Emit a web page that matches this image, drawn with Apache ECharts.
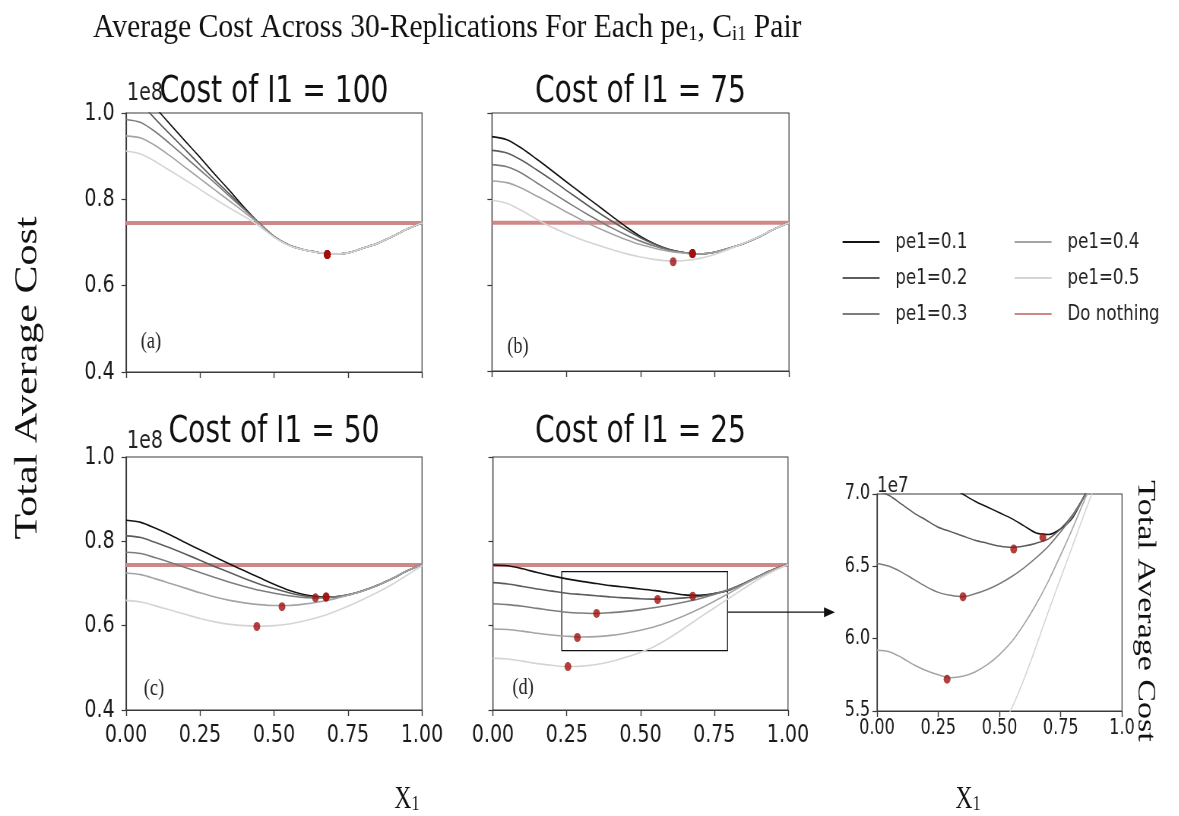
<!DOCTYPE html>
<html>
<head>
<meta charset="utf-8">
<script src="https://cdn.jsdelivr.net/npm/echarts@6/dist/echarts.min.js"></script>
<style>
html, body { margin: 0; padding: 0; background: #fff; overflow: hidden; }
/* the source figure is squeezed sideways, so the chart is drawn wider and scaled back */
#container { width: 1552px; height: 816px; transform: scaleX(0.76); transform-origin: 0 0; }
</style>
</head>
<body>
<div id="container"></div>
<script>
const SQ = 0.76;
const px = v => v / SQ;

let xs = [0, 0.05, 0.1, 0.15, 0.2, 0.25, 0.3, 0.35, 0.4, 0.45, 0.5, 0.55, 0.6, 0.65, 0.7, 0.75, 0.8, 0.85, 0.9, 0.95, 1.0];
let pe1Names = ['pe1=0.1', 'pe1=0.2', 'pe1=0.3', 'pe1=0.4', 'pe1=0.5'];
let pe1Colors = ['#141414', '#5c5c5c', '#7c7c7c', '#a4a4a4', '#d4d4d4'];
let redLine = '#cf8888';
let panelTitles = ['Cost of I1 = 100', 'Cost of I1 = 75', 'Cost of I1 = 50', 'Cost of I1 = 25'];
let panelTags = ['(a)', '(b)', '(c)', '(d)'];

// total average cost in units of 1e8, one row per pe1
let cost100 = [
    [1.06, 1.05, 1.012, 0.973, 0.935, 0.897, 0.858, 0.82, 0.781, 0.745, 0.714, 0.694, 0.683, 0.677, 0.673, 0.676, 0.687, 0.698, 0.714, 0.731, 0.746],
    [1.03, 1.02, 0.985, 0.95, 0.915, 0.88, 0.845, 0.812, 0.778, 0.745, 0.714, 0.694, 0.683, 0.677, 0.673, 0.676, 0.687, 0.698, 0.714, 0.731, 0.746],
    [0.985, 0.978, 0.956, 0.928, 0.898, 0.868, 0.838, 0.807, 0.776, 0.745, 0.714, 0.694, 0.683, 0.677, 0.673, 0.676, 0.687, 0.698, 0.714, 0.731, 0.746],
    [0.947, 0.942, 0.924, 0.9, 0.874, 0.848, 0.822, 0.796, 0.77, 0.743, 0.713, 0.694, 0.683, 0.677, 0.673, 0.676, 0.687, 0.698, 0.714, 0.731, 0.746],
    [0.912, 0.905, 0.887, 0.866, 0.845, 0.823, 0.801, 0.78, 0.76, 0.738, 0.712, 0.693, 0.683, 0.677, 0.673, 0.676, 0.687, 0.698, 0.714, 0.731, 0.746]
];
let cost75 = [
    [0.945, 0.938, 0.918, 0.893, 0.867, 0.84, 0.814, 0.788, 0.762, 0.736, 0.713, 0.695, 0.682, 0.675, 0.672, 0.676, 0.686, 0.697, 0.712, 0.73, 0.745],
    [0.913, 0.907, 0.89, 0.868, 0.845, 0.82, 0.796, 0.772, 0.75, 0.729, 0.71, 0.694, 0.682, 0.675, 0.672, 0.676, 0.686, 0.697, 0.712, 0.73, 0.745],
    [0.88, 0.875, 0.86, 0.838, 0.816, 0.794, 0.773, 0.753, 0.734, 0.717, 0.702, 0.69, 0.68, 0.675, 0.672, 0.676, 0.686, 0.697, 0.712, 0.73, 0.745],
    [0.842, 0.838, 0.825, 0.807, 0.789, 0.77, 0.752, 0.735, 0.72, 0.706, 0.694, 0.685, 0.678, 0.674, 0.672, 0.676, 0.686, 0.697, 0.712, 0.73, 0.745],
    [0.797, 0.79, 0.773, 0.753, 0.735, 0.72, 0.706, 0.694, 0.683, 0.673, 0.665, 0.659, 0.656, 0.657, 0.662, 0.671, 0.684, 0.698, 0.713, 0.73, 0.745]
];
let cost50 = [
    [0.85, 0.845, 0.831, 0.815, 0.797, 0.78, 0.763, 0.746, 0.73, 0.714, 0.698, 0.684, 0.674, 0.669, 0.668, 0.673, 0.683, 0.696, 0.712, 0.73, 0.745],
    [0.813, 0.809, 0.797, 0.784, 0.77, 0.755, 0.74, 0.726, 0.712, 0.699, 0.688, 0.678, 0.671, 0.667, 0.667, 0.673, 0.683, 0.696, 0.712, 0.73, 0.745],
    [0.774, 0.771, 0.761, 0.75, 0.738, 0.726, 0.714, 0.703, 0.693, 0.684, 0.677, 0.671, 0.667, 0.666, 0.668, 0.673, 0.683, 0.696, 0.712, 0.73, 0.745],
    [0.725, 0.721, 0.711, 0.7, 0.689, 0.678, 0.668, 0.66, 0.654, 0.65, 0.648, 0.648, 0.651, 0.656, 0.663, 0.672, 0.682, 0.695, 0.712, 0.73, 0.745],
    [0.66, 0.656, 0.647, 0.637, 0.627, 0.617, 0.609, 0.603, 0.6, 0.599, 0.6, 0.604, 0.611, 0.62, 0.632, 0.646, 0.662, 0.679, 0.698, 0.72, 0.742]
];
let cost25 = [
    [0.744, 0.742, 0.735, 0.726, 0.718, 0.711, 0.705, 0.7, 0.695, 0.691, 0.687, 0.683, 0.678, 0.673, 0.672, 0.676, 0.684, 0.7, 0.717, 0.733, 0.745],
    [0.702, 0.699, 0.693, 0.687, 0.682, 0.677, 0.674, 0.671, 0.668, 0.666, 0.664, 0.663, 0.664, 0.666, 0.669, 0.676, 0.686, 0.7, 0.717, 0.733, 0.745],
    [0.652, 0.65, 0.646, 0.641, 0.636, 0.632, 0.63, 0.629, 0.631, 0.634, 0.638, 0.643, 0.649, 0.656, 0.664, 0.674, 0.685, 0.699, 0.716, 0.732, 0.745],
    [0.592, 0.591, 0.587, 0.582, 0.578, 0.575, 0.573, 0.574, 0.577, 0.582, 0.589, 0.598, 0.61, 0.624, 0.64, 0.658, 0.677, 0.697, 0.716, 0.732, 0.745],
    [0.523, 0.521, 0.516, 0.51, 0.506, 0.503, 0.504, 0.508, 0.515, 0.525, 0.537, 0.552, 0.572, 0.595, 0.619, 0.642, 0.665, 0.688, 0.71, 0.729, 0.745]
];

// best x1 for each pe1 (red dots)
let opt100 = [[0.68, 0.672], [0.68, 0.672], [0.68, 0.672], [0.68, 0.672], [0.68, 0.672]];
let opt75 = [[0.675, 0.673], [0.675, 0.673], [0.675, 0.673], [0.675, 0.673], [0.61, 0.654]];
let opt50 = [[0.676, 0.668], [0.676, 0.668], [0.64, 0.666], [0.527, 0.645], [0.442, 0.598]];
let opt25 = [[0.677, 0.67], [0.558, 0.662], [0.351, 0.629], [0.286, 0.572], [0.254, 0.503]];

let doNothing = [0.745, 0.745, 0.744, 0.744];
let zoomBox = [[0.233, 0.728], [0.795, 0.541]];
let arrowY = 0.632;

let costData = [cost100, cost75, cost50, cost25];
let optData = [opt100, opt75, opt50, opt25];

let grids = [
    {left: px(126), top: 113, width: px(296), height: 259},
    {left: px(492), top: 113, width: px(297), height: 258},
    {left: px(126), top: 457, width: px(296), height: 253},
    {left: px(493), top: 457, width: px(295), height: 253},
    {left: px(877), top: 494, width: px(245), height: 217}
];
grids.forEach(function (g) {
    g.show = true;
    g.borderColor = '#3a3a3a';
    g.borderWidth = 1.2;
    g.containLabel = false;
});

var dom = document.getElementById('container');
var myChart = echarts.init(dom, null, {renderer: 'canvas', useDirtyRect: false});

let axisLine = {show: true, lineStyle: {color: '#3a3a3a', width: 1.2}};
let labelFont = {fontFamily: 'DejaVu Sans', color: '#1a1a1a'};

let xAxes = grids.map(function (g, i) {
    let inset = i === 4;
    return {
        gridIndex: i, type: 'value', min: 0, max: 1, interval: 0.25,
        axisLine: axisLine,
        axisTick: {show: true, length: 6, lineStyle: {color: '#3a3a3a', width: 1.4}},
        splitLine: {show: false},
        axisLabel: Object.assign({
            show: i >= 2,
            fontSize: inset ? 21 : 25,
            margin: inset ? 7 : 13,
            formatter: v => (inset && v === 1) ? '1.0' : v.toFixed(2)
        }, labelFont)
    };
});
let yAxes = grids.map(function (g, i) {
    let inset = i === 4;
    return {
        gridIndex: i, type: 'value',
        min: inset ? 0.55 : 0.4, max: inset ? 0.7 : 1.0, interval: inset ? 0.05 : 0.2,
        axisLine: axisLine,
        axisTick: {show: true, length: 6, lineStyle: {color: '#3a3a3a', width: 1.2}},
        splitLine: {show: false},
        axisLabel: Object.assign({
            show: i === 0 || i === 2 || inset,
            fontSize: inset ? 21 : 25,
            margin: inset ? 9 : 15,
            formatter: v => inset ? (v * 10).toFixed(1) : v.toFixed(1)
        }, labelFont)
    };
});

let series = [];
costData.forEach(function (rows, p) {
    rows.forEach(function (vals, k) {
        series.push({
            name: pe1Names[k], type: 'line', xAxisIndex: p, yAxisIndex: p,
            data: xs.map((x, j) => [x, vals[j]]),
            smooth: 0.3, symbol: 'none', z: 3,
            itemStyle: {color: pe1Colors[k]},
            lineStyle: {color: pe1Colors[k], width: 1.6}
        });
    });
    series.push({
        name: 'Do nothing', type: 'line', xAxisIndex: p, yAxisIndex: p,
        data: [[0, doNothing[p]], [1, doNothing[p]]],
        symbol: 'none', z: 2,
        itemStyle: {color: redLine},
        lineStyle: {color: redLine, width: 4}
    });
    let dots = {
        name: 'optimum', type: 'scatter', xAxisIndex: p, yAxisIndex: p,
        data: optData[p], symbolSize: 9, z: 5,
        itemStyle: {color: '#a01010'}
    };
    if (p === 3) {
        dots.markArea = {
            silent: true,
            itemStyle: {color: 'rgba(0,0,0,0)', borderColor: '#111', borderWidth: 1.3},
            data: [[{coord: zoomBox[0]}, {coord: zoomBox[1]}]]
        };
    }
    series.push(dots);
});
// zoomed view of panel (d)
cost25.forEach(function (vals, k) {
    series.push({
        name: pe1Names[k], type: 'line', xAxisIndex: 4, yAxisIndex: 4,
        data: xs.map((x, j) => [x, vals[j]]),
        smooth: 0.3, symbol: 'none', z: 3,
        itemStyle: {color: pe1Colors[k]},
        lineStyle: {color: pe1Colors[k], width: 1.5}
    });
});
series.push({
    name: 'optimum', type: 'scatter', xAxisIndex: 4, yAxisIndex: 4,
    data: opt25, symbolSize: 9, z: 5, itemStyle: {color: '#a01010'}
});

let legendBase = {
    orient: 'vertical', top: 226, itemWidth: px(37), itemHeight: 12, itemGap: 14,
    itemStyle: {opacity: 0},
    textStyle: {fontFamily: 'DejaVu Sans', fontSize: 22, color: '#222', padding: [0, 0, 0, px(12)]}
};

var option = {
    animation: false,
    grid: grids,
    xAxis: xAxes,
    yAxis: yAxes,
    legend: [
        Object.assign({left: px(838), data: pe1Names.slice(0, 3)}, legendBase),
        Object.assign({left: px(1010), data: [pe1Names[3], pe1Names[4], 'Do nothing']}, legendBase)
    ],
    series: series
};

myChart.setOption(option);

// texts and the zoom arrow
let serif = 'Liberation Serif';
let graphics = [];
graphics.push({
    type: 'text', x: px(93), y: 25, scaleY: 0.86,
    style: {
        text: '{m|Average Cost Across 30-Replications For Each pe}{s|1}{m|, C}{s|i1}{m| Pair}',
        verticalAlign: 'middle', align: 'left',
        rich: {
            m: {fontFamily: serif, fontSize: 39, lineHeight: 46, verticalAlign: 'bottom', fill: '#111'},
            s: {fontFamily: serif, fontSize: 24, lineHeight: 22, verticalAlign: 'bottom', fill: '#111'}
        }
    }
});
let tagPos = [[151, 342], [518, 347], [154, 689], [523, 688]];
panelTitles.forEach(function (t, i) {
    let g = grids[i];
    graphics.push({
        type: 'text', x: g.left + g.width / 2, y: i < 2 ? 92 : 432,
        style: {text: t, fontFamily: 'DejaVu Sans', fontSize: 37, fill: '#111', align: 'center', verticalAlign: 'middle'}
    });
    graphics.push({
        type: 'text', x: px(tagPos[i][0]), y: tagPos[i][1],
        style: {text: panelTags[i], fontFamily: serif, fontSize: 24, fill: '#222', align: 'center', verticalAlign: 'middle'}
    });
});
[[127, 106, '1e8', 25], [127, 454, '1e8', 25], [877, 497, '1e7', 22]].forEach(function (o) {
    graphics.push({
        type: 'text', x: px(o[0]), y: o[1],
        style: {text: o[2], fontFamily: 'DejaVu Sans', fontSize: o[3], fill: '#222', align: 'left', verticalAlign: 'bottom'}
    });
});
graphics.push({
    type: 'text', x: px(28), y: 378, rotation: Math.PI / 2,
    style: {text: 'Total Average Cost', fontFamily: serif, fontSize: 42, fill: '#111', align: 'center', verticalAlign: 'middle'}
});
graphics.push({
    type: 'text', x: px(1145), y: 611, rotation: -Math.PI / 2,
    style: {text: 'Total Average Cost', fontFamily: serif, fontSize: 34, fill: '#111', align: 'center', verticalAlign: 'middle'}
});
[407, 968].forEach(function (cx) {
    graphics.push({
        type: 'text', x: px(cx), y: 797,
        style: {
            text: '{m|X}{s|1}', align: 'center', verticalAlign: 'middle',
            rich: {
                m: {fontFamily: serif, fontSize: 31, lineHeight: 36, verticalAlign: 'bottom', fill: '#111'},
                s: {fontFamily: serif, fontSize: 21, lineHeight: 20, verticalAlign: 'bottom', fill: '#111'}
            }
        }
    });
});

let start = myChart.convertToPixel({gridIndex: 3}, [zoomBox[1][0], arrowY]);
let insetLeft = myChart.convertToPixel({gridIndex: 4}, [0, 0.6]);
let endX = insetLeft[0] - px(42);
graphics.push({
    type: 'line', shape: {x1: start[0], y1: start[1], x2: endX - px(8), y2: start[1]},
    style: {stroke: '#111', lineWidth: 1.4}
});
graphics.push({
    type: 'polygon',
    shape: {points: [[endX - px(11), start[1] - 5], [endX, start[1]], [endX - px(11), start[1] + 5]]},
    style: {fill: '#111'}
});

myChart.setOption({graphic: graphics});

window.addEventListener('resize', myChart.resize);
</script>
</body>
</html>
